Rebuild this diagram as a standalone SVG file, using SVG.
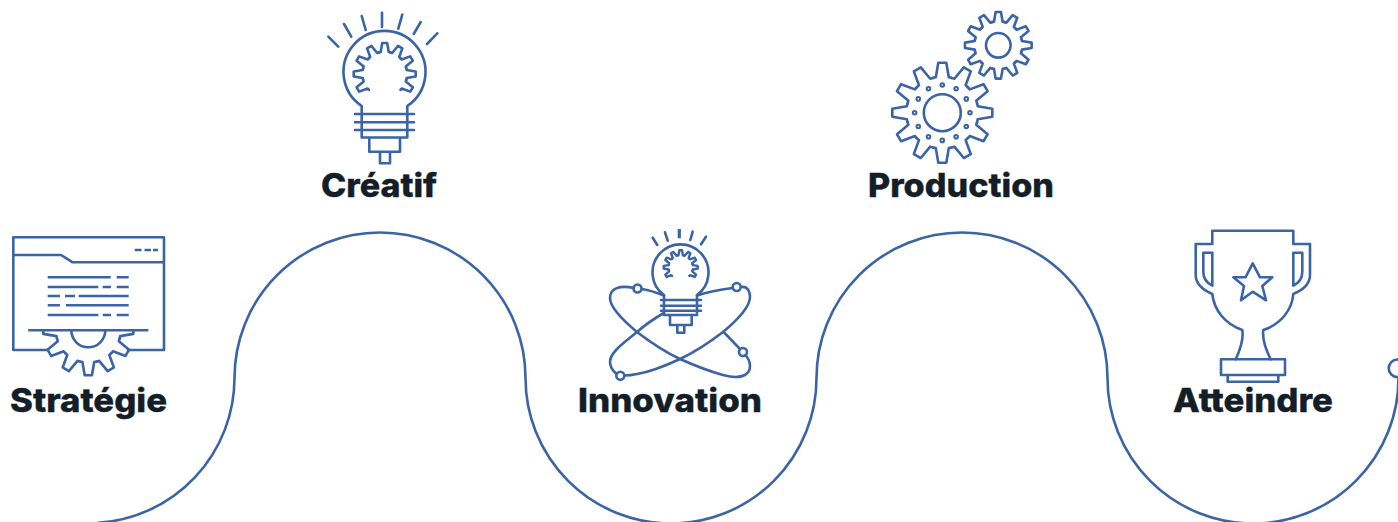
<svg xmlns="http://www.w3.org/2000/svg" width="1398" height="522" viewBox="0 0 1398 522">
<style>
.s{fill:none;stroke:#3b64a6;stroke-width:2.6;stroke-linecap:round;stroke-linejoin:round}
.f{stroke-linecap:butt}
.t{font-family:"Inter","Liberation Sans",sans-serif;font-weight:800;font-size:32.5px;fill:#141e28;stroke:#141e28;stroke-width:.35}
</style>
<defs>
<path id="tooth" d="M-9.32-34.77Q-8-35.2-6.5-35.4L-4-50H4L6.5-35.4Q8-35.2 9.32-34.77"/>
<g id="gear12">
<use href="#tooth"/><use href="#tooth" transform="rotate(30)"/><use href="#tooth" transform="rotate(60)"/><use href="#tooth" transform="rotate(90)"/><use href="#tooth" transform="rotate(120)"/><use href="#tooth" transform="rotate(150)"/><use href="#tooth" transform="rotate(180)"/><use href="#tooth" transform="rotate(210)"/><use href="#tooth" transform="rotate(240)"/><use href="#tooth" transform="rotate(270)"/><use href="#tooth" transform="rotate(300)"/><use href="#tooth" transform="rotate(330)"/>
</g>
<g id="gear9">
<use href="#tooth" transform="rotate(-120)"/><use href="#tooth" transform="rotate(-90)"/><use href="#tooth" transform="rotate(-60)"/><use href="#tooth" transform="rotate(-30)"/><use href="#tooth"/><use href="#tooth" transform="rotate(30)"/><use href="#tooth" transform="rotate(60)"/><use href="#tooth" transform="rotate(90)"/><use href="#tooth" transform="rotate(120)"/>
</g>
<clipPath id="below"><rect x="0" y="330.3" width="180" height="60"/></clipPath>
</defs>

<g id="connectors">
<path class="s" d="M98 522.8A145.5 145.5 0 0 0 234.5 378A145.5 145.5 0 0 1 525.5 378A145.5 145.5 0 0 0 816.5 378A145.5 145.5 0 0 1 1107.5 378A145.5 145.5 0 0 0 1398.5 378"/>
<circle class="s" cx="1397.5" cy="368.3" r="8.8"/>
</g>

<g id="strategie">
<path class="s" d="M48 350H13.3V237.3H164V350H128M13.3 255H61L72.7 262.3H164"/>
<path class="s f" d="M134.7 250H141.5M144.5 250H151M153 250H158M47.7 277.3H110.7M116.7 277.3H128.7M47.7 287H98.3M102.7 287H111M116.7 287H128.7M47.7 296H60M65 296H75M78.7 296H128.7M47.7 305.3H60M66 305.3H128.7M47.7 315H98.3M102.7 315H111M116.7 315H128.7"/>
<path class="s" d="M29.3 330.3H147.3M71.3 330.3A17 17 0 0 0 105.3 330.3"/>
<g clip-path="url(#below)"><g class="s" transform="translate(88.3 330.3) scale(.9)" style="stroke-width:2.9">
<use href="#tooth" transform="rotate(90)"/><use href="#tooth" transform="rotate(120)"/><use href="#tooth" transform="rotate(150)"/><use href="#tooth" transform="rotate(180)"/><use href="#tooth" transform="rotate(210)"/><use href="#tooth" transform="rotate(240)"/><use href="#tooth" transform="rotate(270)"/>
</g></g>
<text class="t" x="10" y="412" textLength="157" lengthAdjust="spacingAndGlyphs">Stratégie</text>
</g>

<g id="creatif">
<path class="s" d="M328.3 36.7L338.3 46.7M344 24L351.3 36.7M361.7 16L365.7 30M382 12.7V27M402.3 14.7L398.3 28.7M420.7 22L413.7 34M437.3 33.3L427 44"/>
<path class="s" d="M361.7 137.5V106A41 41 0 1 1 407.3 106V137.5ZM355 114H414M355 122.3H414M355 130H414M369.3 137.5V151.7H400V137.5M380 151.7V163.3H390V151.7"/>
<g class="s" transform="translate(384.7 74) scale(.62)" style="stroke-width:4.2"><use href="#gear9"/></g>
<text class="t" x="321" y="197" textLength="116" lengthAdjust="spacingAndGlyphs">Créatif</text>
</g>

<g id="innovation">
<path class="s" d="M652.7 237.7L657.3 245M665 232.3L667.7 240.7M692.7 231.7L690.3 240M706 236.7L701 244.3"/>
<path class="s f" d="M679.3 229V238.3" style="stroke-width:3.2"/>
<path class="s" d="M664 315V295A28 28 0 1 1 697 295V315ZM661 300H701M661 305.7H701M661 310.7H701M670 315V325H691.7V315M677.3 325V332.7H684.3V325"/>
<g class="s" transform="translate(680.7 267.3) scale(.34)" style="stroke-width:7"><use href="#gear9"/></g>
<path class="s" d="M664 295.5C655 292 648 290 642 289M634 288C620 285 610 288 610 298C610 308 625 322 637 332C650 342 665 352 680 359C700 368 712 372 723 375C738 379 750 377 750 366C750 362 748 358 745.5 355M740 349L723.3 331.7"/>
<path class="s" d="M697 295.5C708 292 718 290 732.5 288M741 287C748 286 750 292 750 297C750 308 735 322 723 332C710 342 695 352 680 359C665 366 650 372 637 374C630 375.5 628 375.5 624.5 375.5M616.5 374C612 370 610 365 610 362C610 352 625 342 637 332C645 325 655 318 664 313"/>
<circle class="s" cx="637.5" cy="288.5" r="4"/><circle class="s" cx="736.7" cy="287" r="4"/><circle class="s" cx="743" cy="352" r="4"/><circle class="s" cx="620.3" cy="375.7" r="4"/>
<text class="t" x="578" y="412" textLength="184" lengthAdjust="spacingAndGlyphs">Innovation</text>
</g>

<g id="production">
<g class="s" transform="translate(942.3 112.7)"><use href="#gear12"/></g>
<circle class="s" cx="942.3" cy="112.7" r="18.5"/>
<g class="s" style="stroke-width:2">
<circle cx="942.3" cy="85" r="1.8"/><circle cx="956.1" cy="88.7" r="1.8"/><circle cx="966.3" cy="98.9" r="1.8"/><circle cx="970" cy="112.7" r="1.8"/><circle cx="966.3" cy="126.5" r="1.8"/><circle cx="956.1" cy="136.7" r="1.8"/><circle cx="942.3" cy="140.4" r="1.8"/><circle cx="928.5" cy="136.7" r="1.8"/><circle cx="918.3" cy="126.5" r="1.8"/><circle cx="914.6" cy="112.7" r="1.8"/><circle cx="918.3" cy="98.9" r="1.8"/><circle cx="928.5" cy="88.7" r="1.8"/>
</g>
<g class="s" transform="translate(998.3 45.3) scale(.667)" style="stroke-width:3.9"><use href="#gear12"/></g>
<circle class="s" cx="998.3" cy="45.3" r="12.3"/>
<text class="t" x="868" y="197" textLength="186" lengthAdjust="spacingAndGlyphs">Production</text>
</g>

<g id="atteindre">
<path class="s" d="M1235.7 359.3C1240 350 1244 340 1242.3 330C1225 324 1214 310 1212.3 294C1203 290 1195.7 284 1195.7 275V244H1212.3V230.7H1293.3V244H1310V275C1310 284 1303 290 1293.3 294C1292 310 1281 324 1263.3 330C1262 340 1266 350 1270.7 359.3"/>
<path class="s" d="M1212.3 285.7C1207 283 1203.3 278 1203.3 271.7V252.7H1212.3ZM1293.3 285.7C1298.6 283 1302.3 278 1302.3 271.7V252.7H1293.3Z"/>
<path class="s" d="M1252.7 263.3L1260 277.3H1272.3L1262.3 286L1266 300.3L1252.7 291.7L1241 300.3L1244 286L1233.3 277.3H1245.5Z"/>
<path class="s" d="M1221 359.3H1285V375H1221ZM1227.7 375V381.7H1278.3V375"/>
<text class="t" x="1173" y="412" textLength="160" lengthAdjust="spacingAndGlyphs">Atteindre</text>
</g>
</svg>
